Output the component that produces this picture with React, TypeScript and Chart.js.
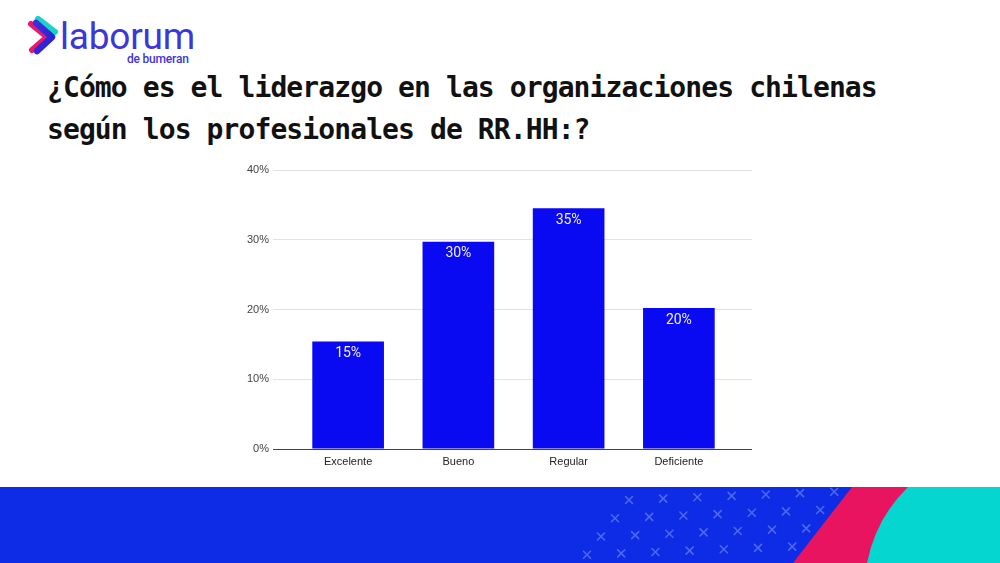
import { useEffect, useRef } from 'react';
import { Chart, registerables } from 'chart.js';

Chart.register(...registerables);

// survey answers (share of HR professionals, %)
const categories = ['Excelente', 'Bueno', 'Regular', 'Deficiente'];
const shares = [15.4, 29.7, 34.5, 20.2];
const yTicks = [0, 10, 20, 30, 40];

const titleLines = [
  '¿Cómo es el liderazgo en las organizaciones chilenas',
  'según los profesionales de RR.HH:?',
];

const gridColor = (ctx: any) => (ctx.tick && ctx.tick.value === 0 ? '#444' : '#e2e2e2');

const barLabels = {
  id: 'barLabels',
  afterDatasetsDraw(chart: Chart) {
    const { ctx } = chart;
    const meta = chart.getDatasetMeta(0);
    ctx.save();
    ctx.fillStyle = '#f0f0ff';
    ctx.font = '14px Roboto';
    ctx.textAlign = 'center';
    ctx.textBaseline = 'middle';
    meta.data.forEach((bar: any, i: number) => {
      ctx.fillText(`${Math.round(shares[i])}%`, bar.x, bar.y + 12);
    });
    ctx.restore();
  },
};

function BarChart() {
  const canvasRef = useRef<HTMLCanvasElement>(null);

  useEffect(() => {
    if (!canvasRef.current) return;
    const step = yTicks[1] - yTicks[0];
    const yMin = yTicks[0];
    const yMax = yTicks[yTicks.length - 1];

    const chart = new Chart(canvasRef.current, {
      type: 'bar',
      data: {
        labels: categories,
        datasets: [
          {
            data: shares,
            backgroundColor: '#0a0af2',
            borderWidth: 0,
            categoryPercentage: 1,
            barPercentage: 0.65,
            yAxisID: 'y',
          },
        ],
      },
      options: {
        animation: false,
        responsive: true,
        maintainAspectRatio: false,
        layout: { padding: { top: 15, right: 18, bottom: 0, left: 0 } },
        plugins: {
          legend: { display: false },
          tooltip: { enabled: false },
        },
        scales: {
          x: {
            grid: { display: false, drawTicks: false },
            border: { display: false },
            ticks: {
              color: '#222',
              font: { family: 'Liberation Sans', size: 11 },
              padding: 6,
            },
            afterFit: (s: any) => {
              s.height = 26;
            },
          },
          y: {
            min: yMin,
            max: yMax,
            ticks: {
              stepSize: step,
              color: '#444',
              font: { family: 'Liberation Sans', size: 11 },
              padding: 4,
              callback: (v: any) => `${v}%`,
            },
            grid: { color: gridColor, tickColor: gridColor, tickLength: 20 },
            border: { display: false },
            afterFit: (s: any) => {
              s.width = 63;
            },
          },
          yRight: {
            position: 'right',
            min: yMin,
            max: yMax,
            ticks: { display: false, stepSize: step },
            grid: { drawOnChartArea: false, tickColor: gridColor, tickLength: 18 },
            border: { display: false },
            afterFit: (s: any) => {
              s.width = 18;
            },
          },
        },
      } as any,
      plugins: [barLabels],
    });

    return () => chart.destroy();
  }, []);

  return <canvas ref={canvasRef} />;
}

function Backdrop() {
  // decorative cross pattern on the footer band
  const crosses: { x: number; y: number }[] = [];
  for (let r = 0; r < 4; r++) {
    for (let k = 0; k < 7; k++) {
      const x = 629 - 14 * r + 34.2 * k;
      const y = 500 + 17.7 * r - (x - 629) * 0.04;
      crosses.push({ x, y });
    }
  }

  return (
    <svg width={1000} height={563} style={{ position: 'absolute', left: 0, top: 0 }}>
      <defs>
        <linearGradient id="chev" x1="0" y1="0" x2="1" y2="1">
          <stop offset="0" stopColor="#3b2fe0" />
          <stop offset="1" stopColor="#2a1fd0" />
        </linearGradient>
      </defs>

      {/* logo */}
      <polyline points="38,19 55,32" fill="none" stroke="#19d4c6" strokeWidth={6} strokeLinecap="round" />
      <polyline points="31,24 47,37 32,50" fill="none" stroke="#e8196d" strokeWidth={6} strokeLinecap="round" strokeLinejoin="round" />
      <polyline points="36,23 52,37 37,51" fill="none" stroke="url(#chev)" strokeWidth={6.5} strokeLinecap="round" strokeLinejoin="round" />
      <text x={60} y={49} fontFamily="Roboto" fontSize={37} fill="#3d36d8" letterSpacing={-0.2}>
        laborum
      </text>
      <text x={127} y={63} fontFamily="Roboto" fontWeight={500} fontSize={12} fill="#3d36d8" letterSpacing={-0.2}>
        de bumeran
      </text>

      {/* title */}
      {titleLines.map((line, i) => (
        <text
          key={i}
          x={47}
          y={97 + i * 42}
          fontFamily="DejaVu Sans Mono"
          fontWeight="bold"
          fontSize={28}
          fill="#111"
          letterSpacing={-0.9}
        >
          {line}
        </text>
      ))}

      {/* bottom band */}
      <rect x={0} y={487} width={1000} height={76} fill="#0e2be6" />
      {crosses.map((c, i) => (
        <g key={i} stroke="#4d68f0" strokeWidth={1.6} strokeLinecap="round">
          <line x1={c.x - 3.5} y1={c.y - 3.5} x2={c.x + 3.5} y2={c.y + 3.5} />
          <line x1={c.x - 3.5} y1={c.y + 3.5} x2={c.x + 3.5} y2={c.y - 3.5} />
        </g>
      ))}
      <path d="M852,487 L1000,487 L1000,563 L793,563 Z" fill="#e8145f" />
      <path d="M908,487 Q876,518 867,563 L1000,563 L1000,487 Z" fill="#05d6cf" />
    </svg>
  );
}

export default function App() {
  return (
    <div
      style={{
        position: 'fixed',
        left: 0,
        top: 0,
        width: 1000,
        height: 563,
        background: '#fff',
        overflow: 'hidden',
      }}
    >
      <Backdrop />
      <div style={{ position: 'absolute', left: 230, top: 155, width: 540, height: 320 }}>
        <BarChart />
      </div>
    </div>
  );
}
